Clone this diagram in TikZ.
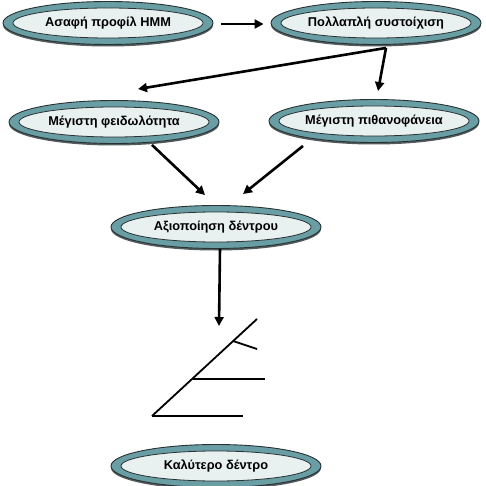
\documentclass[tikz,border=0pt]{standalone}
\usepackage{fontspec}
\setmainfont{Liberation Sans}
\usetikzlibrary{shapes.geometric,arrows.meta,calc,shadows}
\definecolor{rimteal}{RGB}{104,158,164}
\definecolor{innerfill}{RGB}{232,240,240}
\definecolor{edgegray}{RGB}{40,50,52}
\begin{document}
\begin{tikzpicture}[x=1pt,y=-1pt,
  ellnode/.style={ellipse, draw=edgegray, line width=0.9pt, fill=rimteal,
    minimum width=210pt, minimum height=43pt, inner sep=0pt,
    font=\fontsize{12.8}{14}\selectfont\bfseries,
    drop shadow={shadow xshift=0pt, shadow yshift=-2pt, fill=edgegray, opacity=0.8},
    path picture={\draw[edgegray, line width=0.8pt, fill=innerfill]
      (path picture bounding box.center) ellipse [x radius=95pt, y radius=15pt];}},
  conn/.style={line width=2.6pt, -{Triangle[length=9pt,width=9pt]}},
  treeline/.style={line width=1.8pt}]
\useasboundingbox (0,0) rectangle (485,486);
\node[ellnode] (n1) at (108,23) {Ασαφή προφίλ HMM};
\node[ellnode] (n2) at (376,23) {Πολλαπλή συστοίχιση};
\node[ellnode] (n3) at (114,122) {Μέγιστη φειδωλότητα};
\node[ellnode] (n4) at (374,121) {Μέγιστη πιθανοφάνεια};
\node[ellnode] (n5) at (216,227) {Αξιοποίηση δέντρου};
\node[ellnode] (n6) at (216,466) {Καλύτερο δέντρο};
\coordinate (treetop) at (219,326);
\draw[conn] ($(n1.east)+(8,1)$) -- ($(n2.west)+(-7,1)$);
\draw[conn] ($(n2.south)+(10,3)$) -- ($(n3.north)+(24,-11)$);
\draw[conn] ($(n2.south)+(10,3)$) -- ($(n4.north)+(4,-8)$);
\draw[conn] ($(n3.south)+(38,1)$) -- ($(n5.north)+(-11,-10)$);
\draw[conn] ($(n4.south)+(-71,3)$) -- ($(n5.north)+(27,-11)$);
\draw[conn] ($(n5.south)+(4,0)$) -- (treetop);
% tree
\draw[treeline] (152,416) -- (257,319);
\draw[treeline] (152,416) -- (243,416);
\draw[treeline] (193,379) -- (265,379);
\draw[treeline] (233,341) -- (257,349);
\end{tikzpicture}
\end{document}
